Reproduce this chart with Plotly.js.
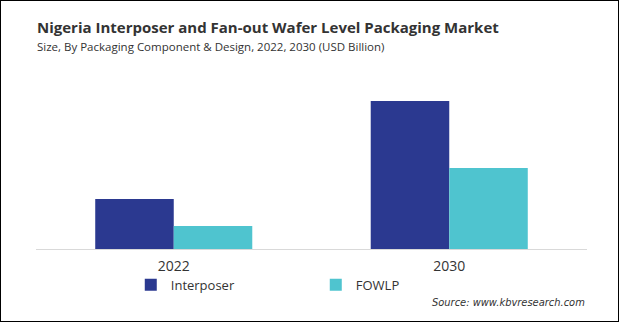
<!DOCTYPE html>
<html>
<head>
<meta charset="utf-8">
<script src="https://cdn.plot.ly/plotly-3.0.1.min.js"></script>
<style>
html,body{margin:0;padding:0;background:#fff;}
#wrap{position:relative;width:619px;height:322px;}
#chart{width:619px;height:322px;}
#frame{position:absolute;left:0;top:0;width:619px;height:322px;box-sizing:border-box;border:1px solid #000;pointer-events:none;}
</style>
</head>
<body>
<div id="wrap"><div id="chart"></div><div id="frame"></div></div>
<script>
const years = ["2022", "2030"];
const interposer = [0.50, 1.48];
const fowlp = [0.23, 0.81];
const seriesNames = ["Interposer", "FOWLP"];
const colors = ["#2b3990", "#4fc4cf"];

const traces = [
  {type: "bar", x: years, y: interposer, name: seriesNames[0], marker: {color: colors[0]}, hoverinfo: "none"},
  {type: "bar", x: years, y: fowlp, name: seriesNames[1], marker: {color: colors[1]}, hoverinfo: "none"}
];

const layout = {
  width: 619, height: 322,
  margin: {l: 36, r: 32, t: 60, b: 73},
  paper_bgcolor: "#fff", plot_bgcolor: "#fff",
  font: {family: "Open Sans, Noto Sans, sans-serif", color: "#333"},
  barmode: "group", bargap: 0.43, bargroupgap: 0,
  showlegend: true,
  legend: {orientation: "h", x: 0.172, xanchor: "left", y: -0.19, yanchor: "middle",
           bgcolor: "rgba(0,0,0,0)", borderwidth: 0,
           font: {size: 13, color: "#333"}, entrywidth: 140, entrywidthmode: "pixels",
           itemwidth: 30, traceorder: "normal", tracegroupgap: 0},
  xaxis: {type: "category", showline: true, linecolor: "#d9d9d9", linewidth: 1,
          ticks: "", ticklabelstandoff: 4, tickfont: {size: 14, color: "#333"}, showgrid: false, zeroline: false,
          fixedrange: true},
  yaxis: {range: [0, 1.89], visible: false, showgrid: false, zeroline: false, fixedrange: true},
  annotations: [
    {xref: "paper", yref: "paper", x: -0.002, y: 1.175, xanchor: "left", yanchor: "middle",
     text: "<b>Nigeria Interposer and Fan-out Wafer Level Packaging Market</b>",
     showarrow: false, font: {size: 15, color: "#333"}},
    {xref: "paper", yref: "paper", x: -0.002, y: 1.069, xanchor: "left", yanchor: "middle",
     text: "Size, By Packaging Component & Design, 2022, 2030 (USD Billion)",
     showarrow: false, font: {size: 11.5, color: "#333"}},
    {xref: "paper", yref: "paper", x: 1.0, y: -0.285, xanchor: "right", yanchor: "middle",
     text: "<i>Source: www.kbvresearch.com</i>",
     showarrow: false, font: {size: 11, color: "#333", family: "Liberation Sans Narrow, DejaVu Sans Condensed, sans-serif"}}
  ]
};

Plotly.newPlot("chart", traces, layout, {displayModeBar: false, staticPlot: true});
</script>
</body>
</html>
